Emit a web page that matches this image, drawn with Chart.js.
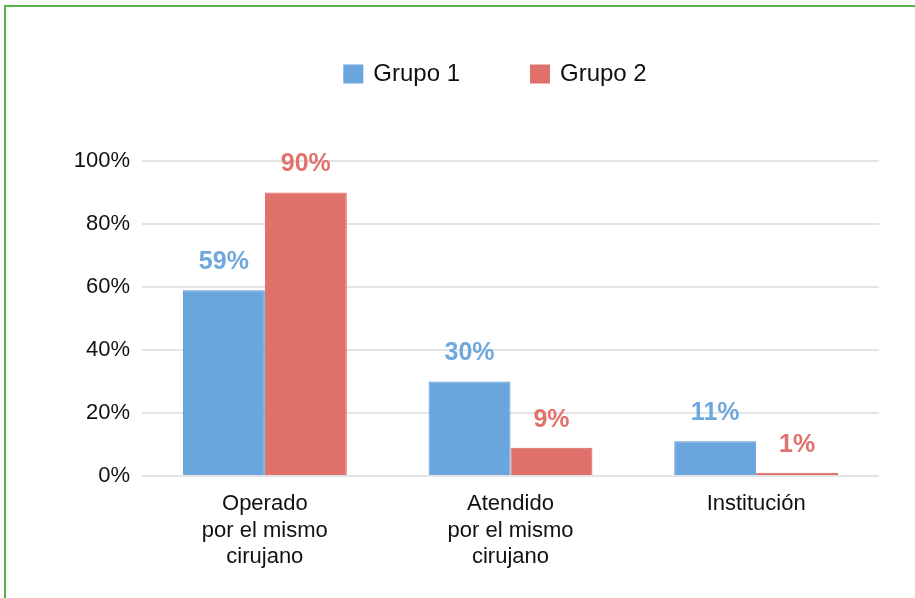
<!DOCTYPE html>
<html>
<head>
<meta charset="utf-8">
<script src="https://cdn.jsdelivr.net/npm/chart.js@4/dist/chart.umd.min.js"></script>
<style>
  html, body { margin: 0; padding: 0; background: #ffffff; overflow: hidden; }
  #wrap { position: relative; width: 915px; height: 598px; }
  #frame { position: absolute; left: 4px; top: 5px; width: 1000px; height: 1000px; border: 2px solid #58b04c; box-sizing: border-box; }
  canvas { position: absolute; left: 0; top: 0; }
</style>
</head>
<body>
<div id="wrap">
  <div id="frame"></div>
  <canvas id="c" width="915" height="598"></canvas>
</div>
<script>
const categories = [["Operado", "por el mismo", "cirujano"], ["Atendido", "por el mismo", "cirujano"], ["Institución"]];
const seriesNames = ["Grupo 1", "Grupo 2"];
const grupo1 = [59, 30, 11];
const grupo2 = [90, 9, 1];
const yTicks = [0, 20, 40, 60, 80, 100];

const FONT = "'Liberation Sans', Arial, Helvetica, sans-serif";
const blue = "#6ba5de";
const red = "#e0706a";
const blueText = "#6fa8dc";
const redText = "#e2716b";

const valueLabels = {
  id: "valueLabels",
  afterDatasetsDraw(chart) {
    const ctx = chart.ctx;
    ctx.save();
    ctx.font = "bold 25px " + FONT;
    ctx.textAlign = "center";
    ctx.textBaseline = "middle";
    chart.data.datasets.forEach((ds, di) => {
      const meta = chart.getDatasetMeta(di);
      meta.data.forEach((bar, i) => {
        ctx.fillStyle = ds.labelColor;
        ctx.fillText(ds.data[i] + "%", bar.x, bar.y - 28);
      });
    });
    ctx.restore();
  }
};

const customLegend = {
  id: "customLegend",
  afterDraw(chart) {
    const ctx = chart.ctx;
    ctx.save();
    ctx.font = "24px " + FONT;
    ctx.textBaseline = "middle";
    ctx.textAlign = "left";
    const boxW = 20, boxH = 19, gapText = 10, gapItem = 70;
    const items = chart.data.datasets.map(ds => ({ text: ds.label, color: ds.backgroundColor, w: boxW + gapText + ctx.measureText(ds.label).width }));
    const total = items.reduce((s, it) => s + it.w, 0) + gapItem * (items.length - 1);
    let x = 495 - total / 2;
    const cy = 74;
    items.forEach(it => {
      ctx.fillStyle = it.color;
      ctx.fillRect(x, cy - boxH / 2, boxW, boxH);
      ctx.fillStyle = "#111111";
      ctx.fillText(it.text, x + boxW + gapText, cy);
      x += it.w + gapItem;
    });
    ctx.restore();
  }
};

new Chart(document.getElementById("c"), {
  type: "bar",
  data: {
    labels: categories,
    datasets: [
      { label: seriesNames[0], data: grupo1, backgroundColor: blue, borderColor: "#5f97cf", borderWidth: 1, labelColor: blueText },
      { label: seriesNames[1], data: grupo2, backgroundColor: red, borderColor: "#d2625c", borderWidth: 1, labelColor: redText }
    ]
  },
  options: {
    responsive: false,
    animation: false,
    events: [],
    layout: { padding: { left: 0, right: 36, top: 161, bottom: 0 } },
    datasets: { bar: { categoryPercentage: 0.667, barPercentage: 1.0 } },
    plugins: {
      legend: { display: false },
      tooltip: { enabled: false }
    },
    scales: {
      x: {
        grid: { display: false, drawTicks: false },
        border: { display: false },
        ticks: { color: "#111111", font: { family: FONT, size: 22, lineHeight: 1.2 }, padding: 15, maxRotation: 0, autoSkip: false },
        afterFit(scale) { scale.height = 122; }
      },
      y: {
        min: 0,
        max: 100,
        afterBuildTicks(scale) { scale.ticks = yTicks.map(v => ({ value: v })); },
        grid: { color: "#e4e4e4", lineWidth: 2, drawTicks: false },
        border: { display: false },
        ticks: { color: "#111111", font: { family: FONT, size: 22 }, padding: 12, callback: v => v + "%" },
        afterFit(scale) { scale.width = 142; }
      }
    }
  },
  plugins: [valueLabels, customLegend]
});
</script>
</body>
</html>
